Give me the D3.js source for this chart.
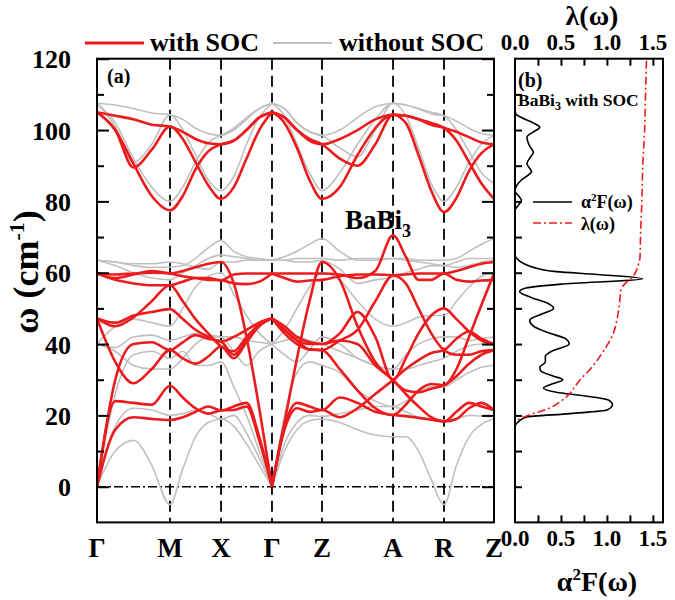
<!DOCTYPE html>
<html><head><meta charset="utf-8">
<script src="https://cdn.jsdelivr.net/npm/d3@7"></script>
<style>
body{margin:0;background:#fff}
svg{display:block}
text{font-family:"Liberation Serif","Times New Roman",serif;font-weight:bold;fill:#000}
</style>
</head><body>
<svg id="c" width="675" height="600"></svg>
<script>
// ---------------- DATA ----------------
const hsLabels = ["Γ","M","X","Γ","Z","A","R","Z"];
const hsK = [0, 1.0, 1.699, 2.397, 3.082, 4.055, 4.753, 5.438];
const yTicksMajor = [0,20,40,60,80,100,120];
const yTicksMinor = [10,30,50,70,90,110];
const specTicks = [0.0, 0.5, 1.0, 1.5];
const specTickLabels = ["0.0","0.5","1.0","1.5"];

// phonon bands with SOC (values at 4 sub-steps per path segment, 29 points)
const soc1  = [0,16,19.5,19,18.7, 19.5,21,22.5,21.4, 22.5,23.5,14,0, 17,23.5,22.5,21.5, 25,23.5,21,20.1, 19.8,19.3,18.8,18.3, 21,23.5,22.5,21.5];
const soc2  = [0,24,23.5,23,28.3, 25,22,20.5,21.4, 21.5,22.5,13,0, 16,22,21,21.5, 19.5,22,26,29.9, 33,35.5,37.5,38.3, 41.5,43.5,41.5,40];
const soc3  = [0,30,40,40.5,38.3, 40.5,42.5,41.5,40.7, 37,41,45.5,47.2, 43,40,38.5,38.3, 33,27,22,20.1, 23,27,28.8,28.5, 33,42,51,59.8];
const soc4  = [47.2,35,29,33,38.3, 36,34.5,36.5,39.3, 36,40.5,45,47.2, 44,41,40,40, 41,40,34,29.9, 26,22.5,19.5,18.3, 19,22,23.5,21.5];
const soc5  = [47.2,46,48,49,49.8, 47,44,42,40.7, 42,44,46,47.2, 45,42,40.5,40, 43,49,42,29.9, 36,43,48,50, 47,43.5,41,40];
const soc6  = [47.2,45,47.5,52,56.5, 52,47,43,39.3, 38,42,45.5,47.2, 44,41,38.5,38.3, 41,44,52,59.3, 59.5,59.8,59.8,59.8, 60.5,61.5,62.5,63];
const soc7  = [59.8,58,57,56.5,56.5, 57.5,58.5,58.5,57.9, 59.5,59.8,59.8,59.8, 58.5,57.5,57.8,58, 59,59.5,59.5,59.3, 57,50,43,38.3, 37,37,38,38.3];
const soc8  = [59.8,58.5,59.5,60.5,59.8, 59,58.5,58,57.9, 57,56.8,57.5,59.8, 59.8,59.8,59.8,59.8, 59.5,58.5,60.5,70.5, 64.5,58,58,59.8, 58,57.5,57.8,58];
const soc9  = [59.8,59.5,59.8,60,59.8, 60.5,61.5,62.5,63, 57,42,22,0, 18,36,52,63, 58,45,35,29.9, 27,26.5,27.5,28.5, 31,34.5,37,38.3];
const soc10 = [105,104,103,101.5,101, 99.5,97.5,96.3,96, 97,100,103.5,105, 103.5,100,97,96, 97.5,100,103,104.3, 104,103,101.5,100.6, 99.5,98,96.5,96];
const soc11 = [105,100,89.5,94.5,101, 97.5,91,84.5,80.7, 84,92,100,105, 103.5,100,97.5,96, 92,90,96,104.3, 104,103,102,100.6, 97,91,85,80.7];
const soc12 = [105,100,90.5,81.5,77.5, 81.5,89,94,96, 97,100,103.5,105, 102,95,86,80.7, 84,93,100.5,104.3, 102,93,83,77, 81,88.5,93.5,96];

// phonon bands without SOC
const nos1  = [0,10,13,6,-5, 5,14,18,19, 17,12,6,0, 10,16,18.5,19, 18,16,14.5,14, 14,10,2,-5, 6,14,17.5,19];
const nos2  = [0,17,22,21.5,20, 20.5,21.5,20.5,19, 20,15,8,0, 12,18,20,19.7, 20.5,21.5,22.5,22.5, 21,19.5,19,18.7, 19,20,19.8,19.7];
const nos3  = [0,26,37,38,36, 38,34,34,35, 28,20,10,0, 20,32,35,34, 32,27,24,22.5, 24,26.5,28,28, 30,32,33.5,34];
const nos4  = [40,38,34,33,33, 36,40,42,42, 42,41,40.5,40, 41,42,41,40, 38,36,34,33, 33,34,35,36, 38,39.5,40,40];
const nos5  = [40,39,42,42.5,41, 42,43,42.5,42, 38,34,38,40, 37,35,38.5,42, 40,36,34,33, 37,40,41.5,42, 42,41,41.5,42];
const nos6  = [40,45,47,46,45, 50,56,59,60, 54,48,43,40, 44,50,56,60, 58,52,47,45, 46,47.5,48,48, 52,56,59,60];
const nos7  = [63.5,62,60,58.5,58, 60,62,64,65, 64.5,64,63.5,63.5, 63.5,63,63,63.5, 61,57,58,58.8, 60,61,62,62, 61.5,62,63,63.5];
const nos8  = [63.5,63,62,61.5,61.6, 62,64,67,69, 66,64.5,64,63.5, 64.5,66,68,69.6, 66,63.5,63.5,64, 64,63.5,63.5,63.5, 64,66,68,69.6];
const nos9  = [63.5,63,62.5,62.5,63, 62.5,61.5,61,63, 63,63.5,63.5,63.5, 63.5,64,64,64, 63.5,64,64,64, 63.5,63,62.5,62, 63,64,64,64];
const nos10 = [107.5,107,106,104.8,104.3, 103,100.5,99,98.5, 100,103,106,107.5, 106,102,99.5,98.5, 100,103.5,106.5,107.5, 107,106,104.5,104, 102.5,100.5,99,98.5];
const nos11 = [107.5,101,91,96,104.3, 100,93,86,83, 87,96,103.5,107.5, 106,102,99.5,98.5, 95,92.5,100,107.5, 107,106,105,104, 100,94,88,85];
const nos12 = [107.5,102,92,84,80, 84,91,96.5,98.5, 100.5,103.5,106,107.5, 104,96,88,83, 88,96,103,107.5, 104,95,85,80, 84,91,96,98.5];

const socBands = [soc1,soc2,soc3,soc4,soc5,soc6,soc7,soc8,soc9,soc10,soc11,soc12];
const noSocBands = [nos1,nos2,nos3,nos4,nos5,nos6,nos7,nos8,nos9,nos10,nos11,nos12];

// Eliashberg function alpha^2F(omega) and lambda(omega)
const a2fOmega = [17,17.8,18.5,19.5,20.5,21.5,23,24.3,25.5,26.5,27.7,28.8,30,31,32.5,33.5,35,36.5,38,40,41.5,43,45,46.7,48.5,50,51.5,53,54.7,55.7,56.8,58.3,59.5,60.3,61.5,62.5,64,65,77.5,79,80.3,81.5,83,84.5,86,87.5,88.3,90.6,92.5,93.8,95.5,98,99.5,100.8,102,103.5,104.5,106];
const a2fValue = [0,0.02,0.05,0.12,0.6,1.0,1.06,1.02,0.75,0.45,0.31,0.4,0.52,0.42,0.28,0.27,0.33,0.33,0.4,0.59,0.55,0.38,0.2,0.16,0.3,0.42,0.35,0.18,0.05,0.12,0.5,1.39,0.9,0.45,0.2,0.1,0.02,0,0,0.04,0.07,0.04,0,0.02,0.07,0.15,0.18,0.13,0.17,0.2,0.16,0.13,0.2,0.27,0.2,0.07,0.01,0];
const lamOmega = [0,17.8,19,20.5,22,24,26.2,28,30,33,36.4,40,43,47,52.3,55,57,58.5,60,62,64.5,70,80,90,100,110,119.4];
const lamValue = [0,0,0.05,0.2,0.37,0.5,0.6,0.65,0.71,0.82,0.92,1.01,1.07,1.11,1.14,1.15,1.2,1.27,1.31,1.34,1.36,1.365,1.38,1.39,1.41,1.42,1.43];

// ---------------- DRAW ----------------
const svg = d3.select("#c");
const yA = d3.scaleLinear().domain([-10,120]).range([522.4,58.7]);
const xA = d3.scaleLinear().domain([hsK[0], hsK[hsK.length-1]]).range([97,494]);
const xB = d3.scaleLinear().domain([0,1.61]).range([515,663]);
const RED = "#ec1c1e", GRAY = "#c0c0c0";

// k grid: 4 sub-steps per segment
const kGrid = [hsK[0]];
for (let s=0;s<hsK.length-1;s++) for (let j=1;j<=4;j++) kGrid.push(hsK[s]+(hsK[s+1]-hsK[s])*j/4);

svg.append("clipPath").attr("id","clipA").append("rect")
  .attr("x",97).attr("y",58.7).attr("width",397).attr("height",463.7);

const lineM = d3.line().x(d=>xA(d[0])).y(d=>yA(d[1])).curve(d3.curveMonotoneX);
// split the path at the zone-centre Γ points (indices 0 and 12) to keep acoustic cusps
function bandPath(vals){
  const pts = vals.map((v,i)=>[kGrid[i],v]);
  return lineM(pts.slice(0,13)) + lineM(pts.slice(12));
}
const gA = svg.append("g").attr("clip-path","url(#clipA)");

// dashed verticals
hsK.slice(1,-1).forEach(k=>{
  gA.append("line").attr("x1",xA(k)).attr("x2",xA(k)).attr("y1",yA(120)).attr("y2",yA(-10))
    .attr("stroke","#000").attr("stroke-width",1.8).attr("stroke-dasharray","11,6");
});
// zero dash-dot line
gA.append("line").attr("x1",xA(hsK[0])).attr("x2",xA(hsK[hsK.length-1])).attr("y1",yA(0)).attr("y2",yA(0))
  .attr("stroke","#000").attr("stroke-width",1.4).attr("stroke-dasharray","9,3,2,3");

gA.selectAll("path.nos").data(noSocBands).enter().append("path").attr("class","nos")
  .attr("d",bandPath).attr("fill","none").attr("stroke",GRAY).attr("stroke-width",1.6);
gA.selectAll("path.soc").data(socBands).enter().append("path").attr("class","soc")
  .attr("d",bandPath).attr("fill","none").attr("stroke",RED).attr("stroke-width",2.6);

// panel a frame & axes
svg.append("rect").attr("x",97).attr("y",yA(120)).attr("width",397).attr("height",yA(-10)-yA(120))
  .attr("fill","none").attr("stroke","#000").attr("stroke-width",2);
const axL = svg.append("g").attr("transform","translate(97,0)")
  .call(d3.axisLeft(yA).tickValues(yTicksMajor).tickSize(-12).tickPadding(26).tickFormat(d3.format("d")));
svg.append("g").attr("transform","translate(97,0)")
  .call(d3.axisLeft(yA).tickValues(yTicksMinor).tickSize(-7).tickFormat(""));
svg.append("g").attr("transform","translate(494,0)")
  .call(d3.axisRight(yA).tickValues(yTicksMajor).tickSize(-12).tickFormat(""));
svg.append("g").attr("transform","translate(494,0)")
  .call(d3.axisRight(yA).tickValues(yTicksMinor).tickSize(-7).tickFormat(""));
svg.selectAll(".domain").remove();
svg.selectAll(".tick line").attr("stroke","#000").attr("stroke-width",2);
axL.selectAll("text").attr("font-size",26).attr("font-family","Liberation Serif").attr("font-weight","bold").attr("dy","0.35em");

// high-symmetry labels
svg.selectAll("text.hs").data(hsLabels).enter().append("text").attr("class","hs")
  .attr("x",(d,i)=>xA(hsK[i])).attr("y",557).attr("text-anchor","middle").attr("font-size",27).text(d=>d);

// y title
const yt = svg.append("text").attr("transform","translate(38,272) rotate(-90)").attr("text-anchor","middle").attr("font-size",36);
yt.append("tspan").text("ω (cm");
yt.append("tspan").attr("dy",-14).attr("font-size",22).text("-1");
yt.append("tspan").attr("dy",14).text(")");

svg.append("text").attr("x",107).attr("y",83).attr("font-size",20).text("(a)");
const bb = svg.append("text").attr("x",345).attr("y",229).attr("font-size",27);
bb.append("tspan").text("BaBi");
bb.append("tspan").attr("dy",8).attr("font-size",18).text("3");

// legend top
svg.append("line").attr("x1",85).attr("x2",144).attr("y1",43).attr("y2",43).attr("stroke",RED).attr("stroke-width",2.8);
svg.append("text").attr("x",150).attr("y",51).attr("font-size",26).text("with SOC");
svg.append("line").attr("x1",273).attr("x2",332).attr("y1",43).attr("y2",43).attr("stroke",GRAY).attr("stroke-width",1.8);
svg.append("text").attr("x",339).attr("y",51).attr("font-size",26).text("without SOC");

// ---- panel b ----
const gB = svg.append("g");
svg.append("clipPath").attr("id","clipB").append("rect")
  .attr("x",515).attr("y",yA(120)).attr("width",148).attr("height",yA(-10)-yA(120));
const a2fPts = a2fOmega.map((w,i)=>[a2fValue[i],w]).reverse();
const lamPts = lamOmega.map((w,i)=>[lamValue[i],w]).reverse();
const lineB = d3.line().x(d=>xB(d[0])).y(d=>yA(d[1])).curve(d3.curveMonotoneY);
gB.append("path").attr("clip-path","url(#clipB)").attr("d",lineB(a2fPts)).attr("fill","none").attr("stroke","#000").attr("stroke-width",1.6);
gB.append("path").attr("clip-path","url(#clipB)").attr("d",lineB(lamPts)).attr("fill","none").attr("stroke",RED).attr("stroke-width",1.6).attr("stroke-dasharray","8,3,2,3");

svg.append("rect").attr("x",515).attr("y",yA(120)).attr("width",148).attr("height",yA(-10)-yA(120))
  .attr("fill","none").attr("stroke","#000").attr("stroke-width",2);
const ticksB = d3.range(0,111,10);
svg.append("g").attr("transform","translate(515,0)")
  .call(d3.axisLeft(yA).tickValues(ticksB).tickSize(-7).tickFormat(""));
const minorB = [0.25,0.5,0.75,1.0,1.25,1.5];
svg.append("g").attr("transform",`translate(0,${yA(-10)})`)
  .call(d3.axisTop(xB).tickValues(minorB).tickSize(7).tickFormat(""));
svg.append("g").attr("transform",`translate(0,${yA(120)})`)
  .call(d3.axisBottom(xB).tickValues(minorB).tickSize(7).tickFormat(""));
svg.selectAll(".domain").remove();
svg.selectAll(".tick line").attr("stroke","#000").attr("stroke-width",2);

svg.selectAll("text.bt").data(specTicks).enter().append("text").attr("class","bt")
  .attr("x",d=>xB(d)).attr("y",546).attr("text-anchor","middle").attr("font-size",23).text((d,i)=>specTickLabels[i]);
svg.selectAll("text.tt").data(specTicks).enter().append("text").attr("class","tt")
  .attr("x",d=>xB(d)).attr("y",50).attr("text-anchor","middle").attr("font-size",23).text((d,i)=>specTickLabels[i]);

const xl = svg.append("text").attr("x",597).attr("y",591).attr("text-anchor","middle").attr("font-size",28);
xl.append("tspan").text("α");
xl.append("tspan").attr("dy",-11).attr("font-size",17).text("2");
xl.append("tspan").attr("dy",11).text("F(ω)");
svg.append("text").attr("x",592).attr("y",25).attr("text-anchor","middle").attr("font-size",28).text("λ(ω)");

svg.append("text").attr("x",518).attr("y",87).attr("font-size",20).text("(b)");
const bs = svg.append("text").attr("x",518).attr("y",106).attr("font-size",17.5);
bs.append("tspan").text("BaBi");
bs.append("tspan").attr("dy",4).attr("font-size",12).text("3");
bs.append("tspan").attr("dy",-4).text(" with SOC");

svg.append("line").attr("x1",533).attr("x2",572).attr("y1",202).attr("y2",202).attr("stroke","#000").attr("stroke-width",1.6);
const lg1 = svg.append("text").attr("x",581).attr("y",208).attr("font-size",18);
lg1.append("tspan").text("α");
lg1.append("tspan").attr("dy",-7).attr("font-size",11).text("2");
lg1.append("tspan").attr("dy",7).text("F(ω)");
svg.append("line").attr("x1",533).attr("x2",572).attr("y1",223).attr("y2",223).attr("stroke",RED).attr("stroke-width",1.6).attr("stroke-dasharray","8,3,2,3");
svg.append("text").attr("x",581).attr("y",230).attr("font-size",18).text("λ(ω)");
</script>
</body></html>
